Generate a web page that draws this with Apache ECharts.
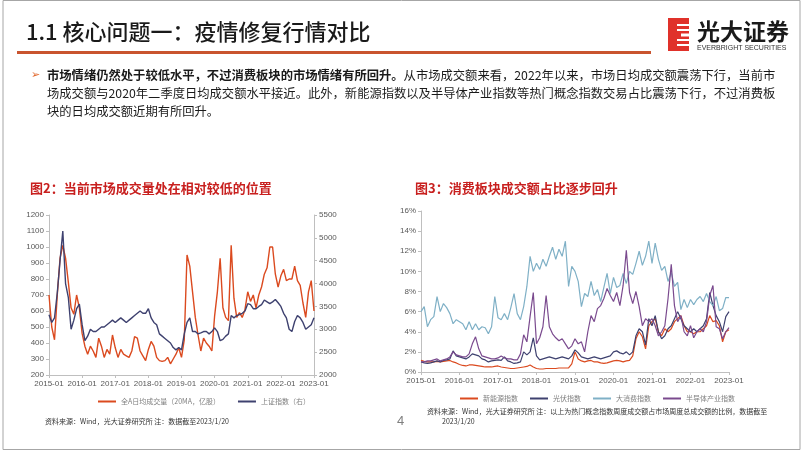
<!DOCTYPE html>
<html lang="zh">
<head>
    <meta charset="UTF-8">
    <title>疫情修复行情对比</title>
    <script src="https://cdn.jsdelivr.net/npm/echarts@6/dist/echarts.min.js"></script>
    <style>
        body { margin: 0; padding: 0; background: #fff; }
        #main { width: 802px; height: 451px; }
    </style>
</head>
<body>
    <div id="main"></div>
    <script>
        // 月度横轴 2015-01 ~ 2023-01
        const months = [];
        for (let y = 2015; y <= 2023; y++) {
            for (let m = 1; m <= 12; m++) {
                if (y === 2023 && m > 1) break;
                months.push(y + '-' + (m < 10 ? '0' + m : m));
            }
        }

        // 图2：全A日均成交量（20MA，亿股）
        const volume = [
            700, 500, 420, 700, 930, 1010, 930, 780, 620, 580, 700, 620,
            460, 380, 330, 380, 350, 310, 430, 380, 310, 360, 330, 450,
            370, 310, 360, 330, 320, 310, 350, 440, 430, 350, 320, 290,
            360, 410, 380, 310, 290, 285, 290, 310, 270, 300, 330, 370,
            310, 420, 950, 880, 720, 560, 450, 350, 430, 400, 380, 350,
            570, 720, 930, 620, 560, 540, 1010, 680, 560, 590, 560, 610,
            720, 660, 700, 620, 700, 750, 830, 870, 1000, 1000, 830, 750,
            820, 860, 790, 800, 800, 880, 790, 760, 650, 560, 720, 790,
            600
        ];
        // 上证指数（右）
        const shIndex = [
            3320, 3150, 3250, 3800, 4500, 5150, 4000, 3700, 3000, 3200, 3450, 3550,
            3100, 2750, 2850, 3000, 2950, 2950, 3000, 3050, 3050, 3100, 3150, 3200,
            3150, 3200, 3250, 3200, 3150, 3200, 3250, 3300, 3350, 3400, 3350, 3350,
            3450, 3250, 3150, 3100, 2900, 2850, 2800, 2750, 2700, 2600, 2550, 2600,
            2550, 2900, 3150, 3250, 2950, 2950, 2900, 2920, 2950, 2950, 2900, 2950,
            3030, 2950, 2750, 2780, 2850, 2900, 3300, 3250, 3300, 3320, 3350, 3400,
            3560, 3540, 3450, 3450, 3500, 3540, 3640, 3600, 3560, 3600, 3650, 3580,
            3500, 3350, 3250, 3000, 2950, 3170, 3300, 3250, 3150, 3000, 3050, 3100,
            3250
        ];

        // 图3：各指数成交额占比（%）
        const newEnergy = [
            1.15, 1.05, 1.0, 1.0, 1.0, 1.05, 1.0, 1.05, 1.1, 1.15, 1.0, 0.9,
            0.75, 0.65, 0.6, 0.7, 0.7, 0.65, 0.6, 0.55, 0.5, 0.5, 0.5, 0.55,
            0.6, 0.5, 0.45, 0.4, 0.35, 0.35, 0.4, 0.45, 0.5, 0.55, 0.7, 0.5,
            0.35, 0.3, 0.3, 0.35, 0.35, 0.35, 0.35, 0.4, 0.4, 0.4, 0.4, 0.8,
            2.0, 1.3, 1.1, 1.0, 1.1, 1.15, 1.0, 1.0, 0.9, 0.85, 0.9, 1.0,
            1.1, 1.15, 1.1, 1.0, 1.1, 1.15, 1.6, 3.3, 4.0, 3.5, 2.3, 4.6,
            5.0, 5.3, 4.0, 3.6, 4.3, 4.0, 4.3, 5.0, 5.3, 5.6, 4.6, 4.0,
            4.0, 3.8, 4.0, 4.0, 4.3, 4.6, 5.6, 5.0, 5.1, 4.6, 3.0, 4.0,
            4.2
        ];
        const pv = [
            1.0, 0.9, 0.85, 0.9, 1.0, 1.1, 1.0, 1.15, 1.2, 1.3, 2.1, 1.6,
            1.5, 1.4, 1.3, 1.5, 1.8, 1.7, 1.6, 1.3, 1.2, 1.0, 1.1, 1.15,
            1.2, 1.15, 1.5, 1.1, 1.0, 0.85, 0.9, 1.0, 2.0, 1.7, 2.0, 3.4,
            1.6, 1.2, 1.3, 1.4, 1.5, 1.4, 1.3, 1.4, 1.5, 1.4, 1.3, 1.6,
            2.2, 1.9, 1.5, 1.4, 1.3, 1.4, 1.5, 1.4, 1.3, 1.4, 1.5, 1.6,
            2.0, 2.1, 1.9, 1.8, 2.0, 1.7, 2.0, 3.6, 4.3, 4.0, 2.7, 5.3,
            4.6, 5.6, 4.0, 3.3, 3.6, 4.3, 4.6, 5.3, 6.0, 5.3, 4.6, 4.3,
            4.0, 4.3, 4.0, 4.3, 4.6, 5.3, 7.9, 6.6, 5.6, 5.0, 4.0, 5.5,
            6.0
        ];
        const consumer = [
            6.0, 6.5, 4.5, 5.2, 5.5, 7.5, 6.0, 6.8, 6.4, 5.8, 4.8, 5.2,
            5.0, 4.8, 4.2, 5.0, 4.2, 4.8, 4.2, 4.5, 4.4, 3.8, 4.5, 7.5,
            5.4, 5.2, 5.8, 5.2, 6.4, 7.8, 5.8, 5.2, 6.5, 8.5, 11.5, 10.0,
            10.8, 10.2, 11.2, 10.5, 11.5, 12.4, 11.2, 12.2, 11.5, 13.0, 8.5, 10.5,
            10.0, 9.0, 6.5, 7.8, 7.5, 9.0, 7.6, 8.2, 7.0, 8.4, 9.8, 7.8,
            9.4, 8.4, 8.6, 9.8, 8.8, 10.0, 9.7, 10.8, 12.0, 10.6, 11.5, 13.0,
            10.8, 12.8, 11.2, 10.1, 10.5, 9.0, 9.9, 8.5, 8.9, 6.2, 7.2, 6.4,
            7.2, 6.7, 7.2, 7.5, 7.0, 7.8, 7.0, 6.6, 7.5, 6.1, 6.3, 7.4,
            7.4
        ];
        const semi = [
            1.0, 1.0, 1.1, 1.1, 1.2, 1.3, 1.1, 1.2, 1.3, 1.5, 2.0, 1.7,
            1.6, 1.5, 1.5, 1.8, 2.8, 3.5, 2.3, 1.6, 1.5, 1.4, 1.3, 1.3,
            1.4, 1.6, 1.4, 1.3, 1.3, 1.2, 1.2, 1.8, 3.7, 3.0, 5.5, 7.9,
            2.8, 3.4, 4.5, 7.6, 4.5, 3.8, 3.4, 3.1, 3.3, 2.8, 2.3, 2.6,
            3.3, 2.8, 3.0, 2.0, 4.0, 5.6, 5.0, 6.3, 6.6, 7.3, 8.3, 7.6,
            7.0, 7.9, 6.6, 8.6, 12.1, 7.9, 6.8, 8.0, 6.5, 4.6, 5.3, 5.0,
            5.3, 4.6, 3.6, 4.0, 4.6, 7.3, 10.7, 6.6, 5.0, 5.6, 4.0, 3.6,
            4.6, 3.4, 4.0, 4.3, 4.0, 5.0, 7.6, 8.6, 4.5, 4.3, 3.3, 4.0,
            4.4
        ];

        const cjk = '"Noto Sans CJK SC", sans-serif';
        const axisGray = '#595959';
        const lineGray = '#bfbfbf';

        const chart = echarts.init(document.getElementById('main'), null, { renderer: 'canvas' });

        function xAxisFor(gridIndex) {
            return {
                type: 'category',
                gridIndex: gridIndex,
                data: months,
                boundaryGap: false,
                axisLine: { lineStyle: { color: lineGray } },
                axisTick: { interval: 11, length: 3, lineStyle: { color: lineGray } },
                axisLabel: { interval: 11, fontSize: 8, color: axisGray, margin: 5, fontFamily: 'Arial' },
                splitLine: { show: false }
            };
        }

        function valueAxis(gridIndex, opts, fmt) {
            return Object.assign({
                type: 'value',
                gridIndex: gridIndex,
                axisLine: { show: true, lineStyle: { color: lineGray } },
                axisTick: { show: true, length: 3, lineStyle: { color: lineGray } },
                axisLabel: {
                    fontSize: 8, color: axisGray, margin: 5, fontFamily: 'Arial',
                    formatter: v => String(v) + (fmt || '')
                },
                splitLine: { show: false }
            }, opts);
        }

        const option = {
            backgroundColor: '#fff',
            animation: false,
            textStyle: { fontFamily: cjk },
            grid: [
                { left: 49, top: 215, width: 265, height: 160 },
                { left: 421, top: 211, width: 308, height: 161 }
            ],
            xAxis: [xAxisFor(0), xAxisFor(1)],
            yAxis: [
                valueAxis(0, { min: 200, max: 1200, interval: 100 }),
                valueAxis(0, { min: 2000, max: 5500, interval: 500, position: 'right' }),
                valueAxis(1, { min: 0, max: 16, interval: 2 }, '%')
            ],
            legend: [
                {
                    left: 93, top: 393,
                    data: ['全A日均成交量（20MA，亿股）', '上证指数（右）'],
                    icon: 'rect', itemWidth: 18, itemHeight: 2, itemGap: 18,
                    textStyle: { fontSize: 7, color: '#7f7f7f', fontFamily: cjk }
                },
                {
                    left: 455, top: 390,
                    data: ['新能源指数', '光伏指数', '大消费指数', '半导体产业指数'],
                    icon: 'rect', itemWidth: 18, itemHeight: 2, itemGap: 12,
                    textStyle: { fontSize: 7, color: '#7f7f7f', fontFamily: cjk }
                }
            ],
            series: [
                {
                    name: '全A日均成交量（20MA，亿股）', type: 'line', xAxisIndex: 0, yAxisIndex: 0,
                    data: volume, symbol: 'none', lineStyle: { width: 1.4, color: '#DB4A1F' }, itemStyle: { color: '#DB4A1F' }
                },
                {
                    name: '上证指数（右）', type: 'line', xAxisIndex: 0, yAxisIndex: 1,
                    data: shIndex, symbol: 'none', lineStyle: { width: 1.4, color: '#3E416F' }, itemStyle: { color: '#3E416F' }
                },
                {
                    name: '新能源指数', type: 'line', xAxisIndex: 1, yAxisIndex: 2,
                    data: newEnergy, symbol: 'none', lineStyle: { width: 1.2, color: '#DB4A1F' }, itemStyle: { color: '#DB4A1F' }
                },
                {
                    name: '光伏指数', type: 'line', xAxisIndex: 1, yAxisIndex: 2,
                    data: pv, symbol: 'none', lineStyle: { width: 1.2, color: '#3E416F' }, itemStyle: { color: '#3E416F' }
                },
                {
                    name: '大消费指数', type: 'line', xAxisIndex: 1, yAxisIndex: 2,
                    data: consumer, symbol: 'none', lineStyle: { width: 1.2, color: '#7FB0C6' }, itemStyle: { color: '#7FB0C6' }
                },
                {
                    name: '半导体产业指数', type: 'line', xAxisIndex: 1, yAxisIndex: 2,
                    data: semi, symbol: 'none', lineStyle: { width: 1.2, color: '#7A4A8E' }, itemStyle: { color: '#7A4A8E' }
                }
            ],
            graphic: [
                // 页面边框
                { type: 'rect', shape: { x: 3, y: 0.5, width: 797, height: 449 }, style: { fill: 'none', stroke: '#a6a6a6', lineWidth: 1 } },
                // 标题
                {
                    type: 'text', left: 26, top: 21,
                    style: { text: '1.1 核心问题一：疫情修复行情对比', fontSize: 22, fontFamily: cjk, fontWeight: 500, fill: '#1a1a1a' }
                },
                { type: 'rect', shape: { x: 17, y: 51, width: 634, height: 3 }, style: { fill: '#C9542F' } },
                // 标志
                { type: 'rect', shape: { x: 668, y: 18, width: 21, height: 33 }, style: { fill: '#E0312A' } },
                { type: 'rect', shape: { x: 677, y: 24, width: 12, height: 2 }, style: { fill: '#fff' } },
                { type: 'rect', shape: { x: 677, y: 29, width: 12, height: 2 }, style: { fill: '#fff' } },
                { type: 'rect', shape: { x: 681, y: 33.5, width: 8, height: 3 }, style: { fill: '#fff' } },
                { type: 'rect', shape: { x: 677, y: 39, width: 12, height: 2 }, style: { fill: '#fff' } },
                { type: 'rect', shape: { x: 677, y: 44, width: 12, height: 2 }, style: { fill: '#fff' } },
                {
                    type: 'text', left: 697, top: 20,
                    style: { text: '光大证券', fontSize: 23, fontWeight: 'bold', fontFamily: cjk, fill: '#1a1a1a' }
                },
                {
                    type: 'text', left: 697, top: 45,
                    style: { text: 'EVERBRIGHT SECURITIES', fontSize: 7, fontFamily: 'Arial', fill: '#333' }
                },
                // 正文
                {
                    type: 'text', left: 31, top: 70,
                    style: { text: '➢', fontSize: 11, fontFamily: 'DejaVu Sans', fill: '#E0662A' }
                },
                {
                    type: 'text', left: 47, top: 69,
                    style: {
                        text: '{b|市场情绪仍然处于较低水平，不过消费板块的市场情绪有所回升。}从市场成交额来看，2022年以来，市场日均成交额震荡下行，当前市',
                        fontSize: 12.3, fontFamily: cjk, fill: '#1a1a1a',
                        rich: { b: { fontSize: 12.3, fontWeight: 'bold', fontFamily: cjk, fill: '#1a1a1a' } }
                    }
                },
                {
                    type: 'text', left: 47, top: 87,
                    style: { text: '场成交额与2020年二季度日均成交额水平接近。此外，新能源指数以及半导体产业指数等热门概念指数交易占比震荡下行，不过消费板', fontSize: 12.3, fontFamily: cjk, fill: '#1a1a1a' }
                },
                {
                    type: 'text', left: 47, top: 105,
                    style: { text: '块的日均成交额近期有所回升。', fontSize: 12.3, fontFamily: cjk, fill: '#1a1a1a' }
                },
                // 图标题
                {
                    type: 'text', left: 30, top: 182,
                    style: { text: '图2：当前市场成交量处在相对较低的位置', fontSize: 13, fontWeight: 'bold', fontFamily: cjk, fill: '#C8201F' }
                },
                {
                    type: 'text', left: 415, top: 182,
                    style: { text: '图3：消费板块成交额占比逐步回升', fontSize: 13, fontWeight: 'bold', fontFamily: cjk, fill: '#C8201F' }
                },
                // 资料来源
                {
                    type: 'text', left: 45, top: 418,
                    style: { text: '资料来源：Wind，光大证券研究所 注：数据截至2023/1/20', fontSize: 7, fontFamily: cjk, fill: '#333' }
                },
                {
                    type: 'text', left: 427, top: 408,
                    style: { text: '资料来源：Wind，光大证券研究所 注：以上为热门概念指数周度成交额占市场周度总成交额的比例，数据截至', fontSize: 7, fontFamily: cjk, fill: '#333' }
                },
                {
                    type: 'text', left: 442, top: 418,
                    style: { text: '2023/1/20', fontSize: 7, fontFamily: cjk, fill: '#333' }
                },
                {
                    type: 'text', left: 397, top: 415,
                    style: { text: '4', fontSize: 13, fontFamily: 'Arial', fill: '#7f7f7f' }
                }
            ]
        };

        chart.setOption(option);
        window.addEventListener('resize', () => chart.resize());
    </script>
</body>
</html>
